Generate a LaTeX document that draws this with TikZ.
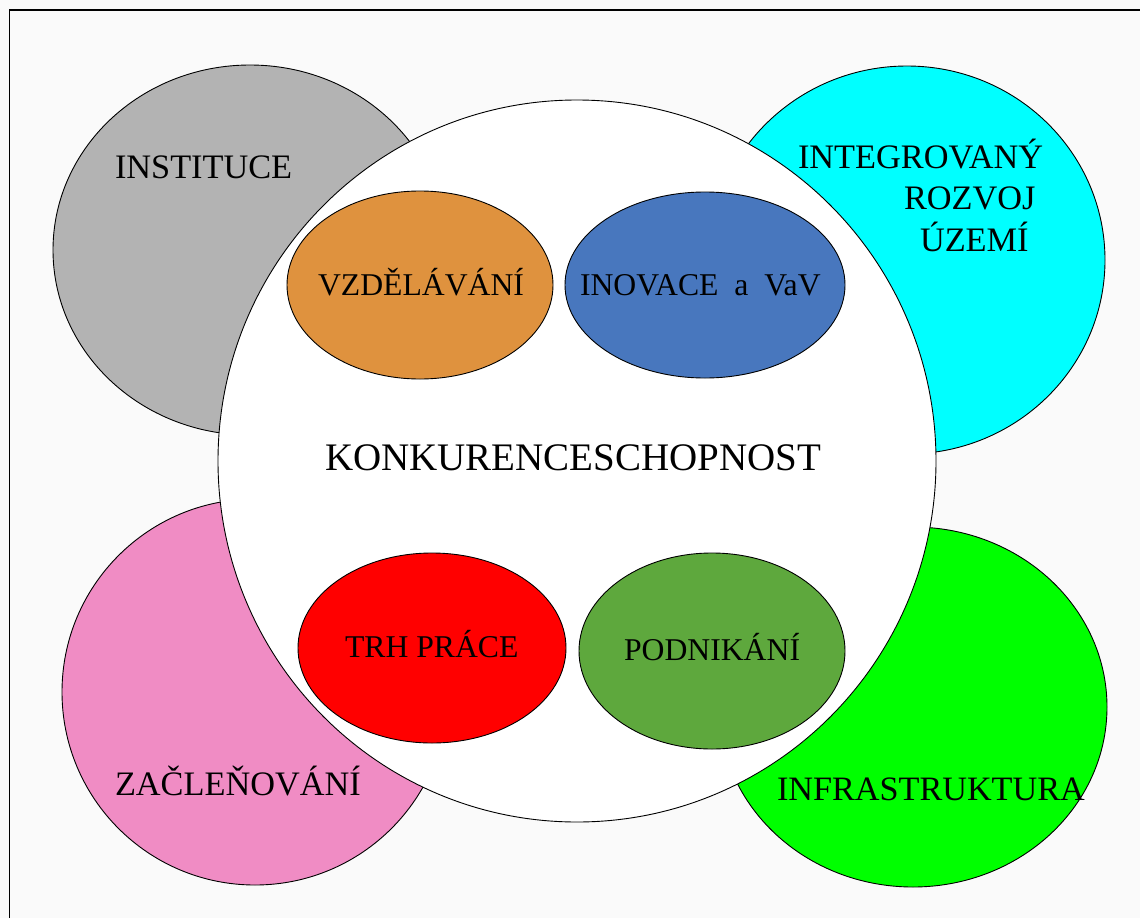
\documentclass[tikz,border=0pt]{standalone}
\usepackage{fontspec}
\setmainfont{Liberation Serif}
\usetikzlibrary{shapes.geometric}
\definecolor{bgc}{HTML}{FAFAFA}
\definecolor{grayc}{HTML}{B3B3B3}
\definecolor{cyanc}{HTML}{00FFFF}
\definecolor{pinkc}{HTML}{F08CC4}
\definecolor{limec}{HTML}{00FF00}
\definecolor{orangec}{HTML}{DF923E}
\definecolor{bluec}{HTML}{4877BE}
\definecolor{redc}{HTML}{FF0000}
\definecolor{dgreenc}{HTML}{5EA83D}
\tikzset{
  blob/.style={ellipse, draw=black, line width=0.9pt, inner sep=0pt, outer sep=0pt},
  lbl/.style={anchor=base west, inner sep=0pt, outer sep=0pt, font=\fontsize{34.3}{40}\selectfont},
  inlbl/.style={anchor=base west, inner sep=0pt, outer sep=0pt, font=\fontsize{31.7}{38}\selectfont},
}
\begin{document}
\begin{tikzpicture}[x=1pt,y=-1pt]
\useasboundingbox (0,0) rectangle (1140,918);
\fill[bgc] (0,0) rectangle (1140,918);
\coordinate (fl) at (9.5,918);
\coordinate (ftl) at (9.5,10);
\coordinate (ftr) at (1140,10);
\draw[line width=1.2pt] (fl) -- (ftl) -- (ftr);
% outer ellipses
\node[blob, fill=grayc, minimum width=394pt, minimum height=370pt] (inst) at (250,250) {};
\node[blob, fill=cyanc, minimum width=396pt, minimum height=388pt] (integ) at (907,260) {};
\node[blob, fill=pinkc, minimum width=386pt, minimum height=386pt] (zacl) at (255,692) {};
\node[blob, fill=limec, minimum width=388pt, minimum height=360pt] (infra) at (913,707) {};
% central circle
\node[blob, fill=white, minimum width=718pt, minimum height=722pt] (konk) at (577,461) {};
% inner ellipses
\node[blob, fill=orangec, minimum width=266pt, minimum height=188pt] (vzd) at (420,285) {};
\node[blob, fill=bluec, minimum width=280pt, minimum height=186pt] (inov) at (705,285) {};
\node[blob, fill=redc, minimum width=268pt, minimum height=190pt] (trh) at (432,648) {};
\node[blob, fill=dgreenc, minimum width=266pt, minimum height=196pt] (podn) at (712,651) {};
% labels
\node[lbl] (tinst) at (115,178) {INSTITUCE};
\node[lbl] (tinteg1) at (798,168) {INTEGROVANÝ};
\node[lbl] (tinteg2) at (904,209) {ROZVOJ};
\node[lbl] (tinteg3) at (920,251) {ÚZEMÍ};
\node[lbl] (tzacl) at (115,795) {ZAČLEŇOVÁNÍ};
\node[lbl, font=\fontsize{34.2}{40}\selectfont] (tinfra) at (777,800) {INFRASTRUKTURA};
\node[lbl, font=\fontsize{39}{46}\selectfont] (tkonk) at (325,470) {KONKURENCESCHOPNOST};
\node[inlbl] (tvzd) at (318,295) {VZDĚLÁVÁNÍ};
\node[inlbl] (tinov) at (580,295) {INOVACE\hspace{0.5em}a\hspace{0.5em}VaV};
\node[inlbl] (ttrh) at (345,657) {TRH PRÁCE};
\node[inlbl] (tpodn) at (624,660) {PODNIKÁNÍ};
\end{tikzpicture}
\end{document}
